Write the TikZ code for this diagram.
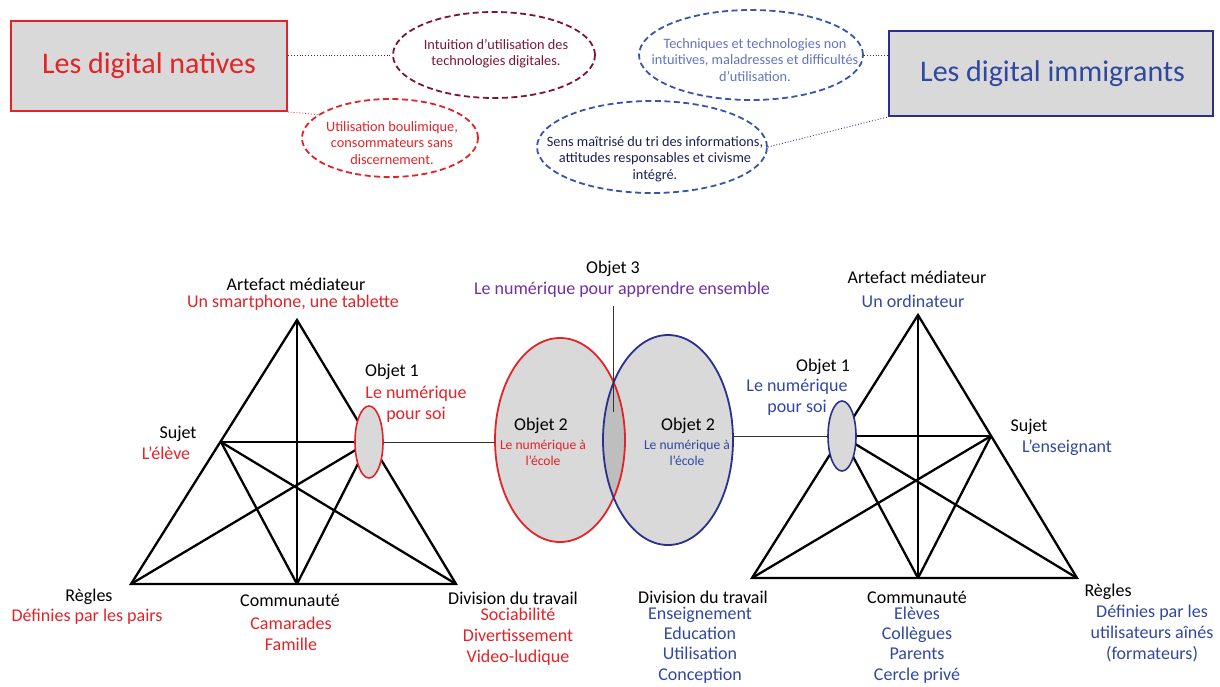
\documentclass[tikz,border=0pt]{standalone}
\usepackage{fontspec}
\setmainfont{Carlito}
\usetikzlibrary{shapes.geometric}
\definecolor{cRed}{RGB}{226,35,40}
\definecolor{cMaroon}{RGB}{125,22,52}
\definecolor{cNavy}{RGB}{42,48,140}
\definecolor{cTBlue}{RGB}{48,72,160}
\definecolor{cLBlue}{RGB}{100,115,190}
\definecolor{cDNavy}{RGB}{28,32,85}
\definecolor{cDBlue}{RGB}{55,85,170}
\definecolor{cPurp}{RGB}{112,48,160}
\definecolor{cGray}{RGB}{217,217,217}
\definecolor{cGDark}{RGB}{190,190,190}
\tikzset{
  lbl/.style={font=\fontsize{18}{21}\selectfont, align=center, inner sep=0pt},
  tight/.style={font=\fontsize{18}{20.3}\selectfont, align=center, inner sep=0pt},
  small/.style={font=\fontsize{13.6}{16.5}\selectfont, align=center, inner sep=0pt},
  bubtxt/.style={font=\fontsize{14.3}{16.3}\selectfont, align=center, inner sep=0pt},
  bigbox/.style={draw, line width=1.8pt, fill=cGray, inner sep=0pt, font=\fontsize{30}{34}\selectfont},
  bubble/.style={ellipse, draw, dash pattern=on 6pt off 3.5pt, line width=1.8pt, inner sep=0pt},
  tri/.style={line width=2.3pt, black},
  link/.style={line width=0.9pt, black!80},
  dotlink/.style={line width=0.9pt, dotted},
  obj/.style={ellipse, fill=cGray, line width=1.6pt, inner sep=0pt, minimum width=28pt, minimum height=72pt}
}
\begin{document}
\begin{tikzpicture}[x=1pt,y=-1pt]
\useasboundingbox (0,0) rectangle (1220,686);

% ---------- top: digital natives ----------
\node[bigbox, draw=cRed, text=cRed, minimum width=276pt, minimum height=90pt] (NatBox) at (149,66) {Les digital natives};
\node[bubble, draw=cMaroon, minimum width=202pt, minimum height=86pt] (I1) at (494,55) {};
\node[bubtxt, text=cMaroon] (I1t) at (496,54) {Intuition d’utilisation des\\technologies digitales.};
\node[bubble, draw=cRed, minimum width=176pt, minimum height=78pt] (U2) at (390,138) {};
\node[bubtxt, text=cRed] (U2t) at (392,143) {Utilisation boulimique,\\consommateurs sans\\discernement.};
\draw[dotlink, cMaroon] (NatBox.east |- I1.west) -- (I1.west);
\draw[dotlink, cRed] (NatBox.south east) -- (U2.162);

% ---------- top: digital immigrants ----------
\node[bigbox, draw=cNavy, text=cTBlue, minimum width=324pt, minimum height=85pt] (ImmBox) at (1051,73.5) {\hspace*{3pt}Les digital immigrants};
\node[bubble, draw=cDBlue, minimum width=224pt, minimum height=90pt] (I3) at (751,55) {};
\node[bubtxt, text=cLBlue] (I3t) at (755,60) {Techniques et technologies non\\intuitives, maladresses et difficultés\\d’utilisation.};
\node[bubble, draw=cDBlue, minimum width=230pt, minimum height=92pt] (S4) at (652,147) {};
\node[bubtxt, text=cDNavy] (S4t) at (655,159) {Sens maîtrisé du tri des informations,\\attitudes responsables et civisme\\intégré.};
\draw[dotlink, cNavy] (I3.east) -- (I3.east -| ImmBox.west);
\draw[dotlink, cNavy] (S4.east) -- (ImmBox.south west);

% ---------- left triangle ----------
\coordinate (LA) at (297,320);
\coordinate (LL) at (131,584);
\coordinate (LR) at (456,584);
\coordinate (LM) at (297,584);
\coordinate (LS) at (221,442);
\coordinate (LO) at (369,442);
\draw[tri] (LA) -- (LL) -- (LR) -- cycle;
\draw[tri] (LA) -- (LM);
\draw[tri] (LS) -- (LO);
\draw[tri] (LS) -- (LM);
\draw[tri] (LS) -- (LR);
\draw[tri] (LO) -- (LL);
\draw[tri] (LO) -- (LM);
\node[obj, draw=cRed] (LObj1) at (LO) {};

\node[lbl] (LArtT) at (296,284) {Artefact médiateur};
\node[lbl, text=cRed] (LArtB) at (293,303) {Un smartphone, une tablette};
\node[lbl] (LObjT) at (392,372) {Objet 1};
\node[lbl, text=cRed] (LObjB) at (416,404) {Le numérique\\pour soi};
\node[lbl] (LSujT) at (178,434) {Sujet};
\node[lbl, text=cRed] (LSujB) at (166,453) {L’élève};
\node[lbl] (LRegT) at (89,597) {Règles};
\node[lbl, text=cRed] (LRegB) at (87,617) {Définies par les pairs};
\node[lbl] (LComT) at (290,600) {Communauté};
\node[lbl, text=cRed] (LComB) at (291,634) {Camarades\\Famille};
\node[lbl] (LDivT) at (513,598) {Division du travail};
\node[lbl, text=cRed] (LDivB) at (518,637) {Sociabilité\\Divertissement\\Video-ludique};

% ---------- middle ----------
\node[ellipse, fill=cGray, inner sep=0pt, minimum width=130pt, minimum height=204pt] (O2L) at (560,440) {};
\node[ellipse, fill=cGray, inner sep=0pt, minimum width=130pt, minimum height=210pt] (O2R) at (668,440) {};
\begin{scope}
  \clip (O2L.center) ellipse [x radius=65, y radius=102];
  \fill[cGDark] (O2R.center) ellipse [x radius=65, y radius=105];
\end{scope}
\draw[cRed, line width=1.8pt] (O2L.center) ellipse [x radius=65, y radius=102];
\draw[cNavy, line width=1.8pt] (O2R.center) ellipse [x radius=65, y radius=105];

\node[lbl] (O2LT) at (541,426) {Objet 2};
\node[small, text=cRed] (O2LB) at (543,453) {Le numérique à\\l’école};
\node[lbl] (O2RT) at (688,426) {Objet 2};
\node[small, text=cTBlue] (O2RB) at (687,453) {Le numérique à\\l’école};

\node[lbl] (O3T) at (613,269) {Objet 3};
\node[lbl, text=cPurp] (O3B) at (622,290) {Le numérique pour apprendre ensemble};
\coordinate (O3end) at (613,412);
\draw[link] (O3end |- O3B.south) ++(0,8) -- (O3end);

% ---------- right triangle ----------
\coordinate (RA) at (918,315);
\coordinate (RL) at (752,578);
\coordinate (RR) at (1077,578);
\coordinate (RM) at (918,578);
\coordinate (RS) at (991,436);
\coordinate (RO) at (842,436);
\draw[tri] (RA) -- (RL) -- (RR) -- cycle;
\draw[tri] (RA) -- (RM);
\draw[tri] (RO) -- (RS);
\draw[tri] (RO) -- (RM);
\draw[tri] (RO) -- (RR);
\draw[tri] (RS) -- (RL);
\draw[tri] (RS) -- (RM);
\node[obj, draw=cNavy, minimum height=70pt] (RObj1) at (RO) {};

\draw[link] (LObj1.east) -- (LObj1.east -| O2L.west);
\draw[link] (O2R.east |- RObj1.west) -- (RObj1.west);

\node[lbl] (RArtT) at (917,277) {Artefact médiateur};
\node[lbl, text=cTBlue] (RArtB) at (913,301) {Un ordinateur};
\node[lbl] (RObjT) at (823,367) {Objet 1};
\node[lbl, text=cTBlue] (RObjB) at (797,397) {Le numérique\\pour soi};
\node[lbl] (RSujT) at (1029,427) {Sujet};
\node[lbl, text=cTBlue] (RSujB) at (1067,448) {L’enseignant};
\node[lbl] (RDivT) at (703,597) {Division du travail};
\node[tight, text=cTBlue] (RDivB) at (700,645) {Enseignement\\Education\\Utilisation\\Conception};
\node[lbl] (RComT) at (917,597) {Communauté};
\node[tight, text=cTBlue] (RComB) at (917,645) {Elèves\\Collègues\\Parents\\Cercle privé};
\node[lbl] (RRegT) at (1108,592) {Règles};
\node[lbl, text=cTBlue] (RRegB) at (1152,633) {Définies par les\\utilisateurs aînés\\(formateurs)};
\end{tikzpicture}
\end{document}
